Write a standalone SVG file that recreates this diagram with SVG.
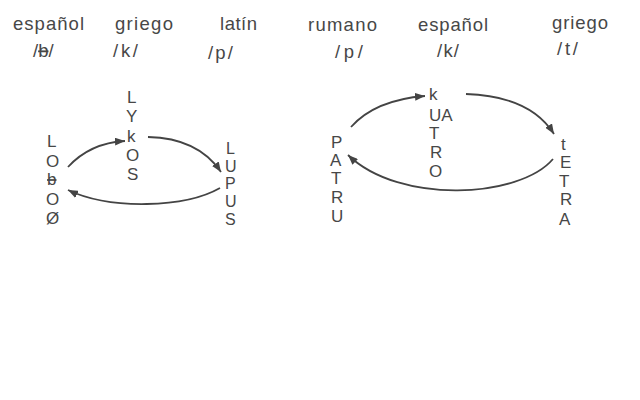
<svg xmlns="http://www.w3.org/2000/svg" width="640" height="400" viewBox="0 0 640 400">
<style>
text{font-family:"Liberation Sans",Arial,"DejaVu Sans",sans-serif;fill:#474747}
.h{font-size:18.5px}
.c{font-size:17px}
.s{font-size:16px}
.st{text-decoration:line-through}
.arr{fill:none;stroke:#444;stroke-width:1.8}
</style>
<defs>
<marker id="ah" markerUnits="userSpaceOnUse" viewBox="0 0 10 8" refX="10" refY="4" markerWidth="10" markerHeight="8" orient="auto">
<path d="M0,0 L10,4 L0,8 z" fill="#444"/>
</marker>
</defs>
<rect width="640" height="400" fill="#fff"/>
<g id="headers">
<text class="h" x="13" y="30" textLength="71" lengthAdjust="spacing">español</text>
<text class="h" x="33" y="57">/<tspan class="st">b</tspan>/</text>
<text class="h" x="115" y="30" textLength="58" lengthAdjust="spacing">griego</text>
<text class="h" x="113" y="57" textLength="25" lengthAdjust="spacing">/k/</text>
<text class="h" x="220" y="30" textLength="37" lengthAdjust="spacing">latín</text>
<text class="h" x="208" y="59" textLength="25" lengthAdjust="spacing">/p/</text>
<text class="h" x="308" y="31" textLength="69" lengthAdjust="spacing">rumano</text>
<text class="h" x="335" y="58" textLength="28" lengthAdjust="spacing">/p/</text>
<text class="h" x="418" y="31" textLength="70" lengthAdjust="spacing">español</text>
<text class="h" x="437" y="57" textLength="22" lengthAdjust="spacing">/k/</text>
<text class="h" x="552" y="29" textLength="56" lengthAdjust="spacing">griego</text>
<text class="h" x="557" y="55" textLength="21" lengthAdjust="spacing">/t/</text>
</g>
<g id="lobo">
<text class="c" x="47" y="147">L</text>
<text class="c" x="46" y="167">O</text>
<text class="c st" x="47" y="185">b</text>
<text class="c" x="46" y="205">O</text>
<text class="c" x="46" y="224">Ø</text>
</g>
<g id="lykos">
<text class="c" x="127" y="103">L</text>
<text class="c" x="126" y="122">Y</text>
<text class="c" x="127" y="142">k</text>
<text class="c" x="126" y="161">O</text>
<text class="c" x="127" y="180">S</text>
</g>
<g id="lupus">
<text class="s" x="226" y="154">L</text>
<text class="s" x="225" y="172">U</text>
<text class="s" x="225" y="189">P</text>
<text class="s" x="225" y="207">U</text>
<text class="s" x="225" y="225">S</text>
</g>
<g id="patru">
<text class="c" x="331" y="148">P</text>
<text class="c" x="330" y="166">A</text>
<text class="c" x="331" y="184">T</text>
<text class="c" x="331" y="203">R</text>
<text class="c" x="331" y="222">U</text>
</g>
<g id="kuatro">
<text class="c" x="429" y="100">k</text>
<text class="c" x="429" y="121">UA</text>
<text class="c" x="429" y="139">T</text>
<text class="c" x="430" y="158">R</text>
<text class="c" x="429" y="177">O</text>
</g>
<g id="tetra">
<text class="c" x="561" y="150">t</text>
<text class="c" x="560" y="168">E</text>
<text class="c" x="559" y="187">T</text>
<text class="c" x="560" y="205">R</text>
<text class="c" x="559" y="225">A</text>
</g>
<g id="connectors">
<path class="arr" marker-end="url(#ah)" d="M68,167 Q90,143 125,141"/>
<path class="arr" marker-end="url(#ah)" d="M148,137 Q198,138 221,172"/>
<path class="arr" marker-end="url(#ah)" d="M220,188 C185,208 110,210 68,190"/>
<path class="arr" marker-end="url(#ah)" d="M351,127 Q375,100 425,96"/>
<path class="arr" marker-end="url(#ah)" d="M466,94 Q530,96 554,134"/>
<path class="arr" marker-end="url(#ah)" d="M553,159 C520,198 400,205 348,155"/>
</g>
</svg>
